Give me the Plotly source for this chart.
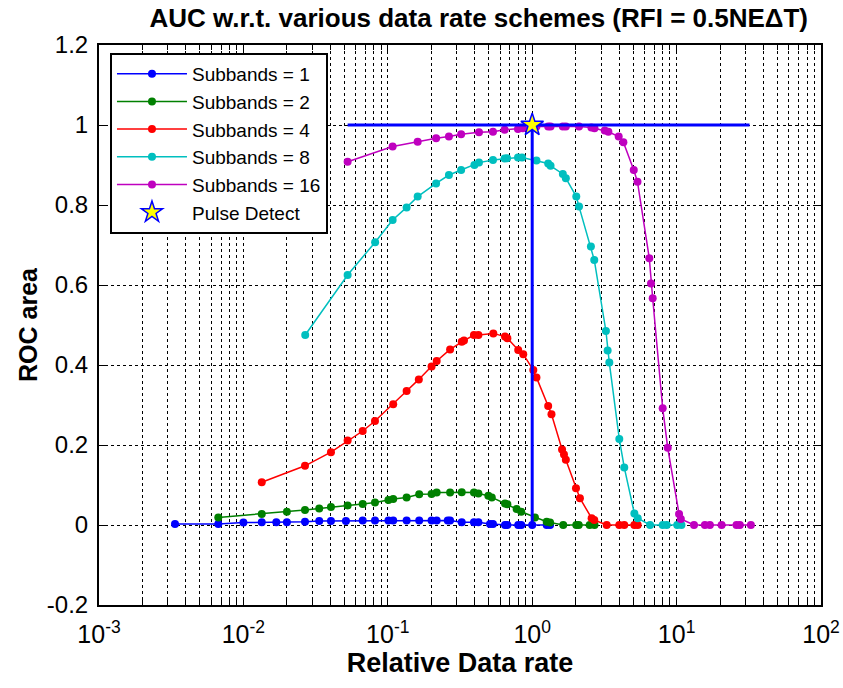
import numpy as np
import plotly.graph_objects as go

# ---- data ----
x_sb1 = [0.00336, 0.0067, 0.01, 0.0134, 0.0169, 0.02, 0.0267, 0.0335, 0.0404, 0.0513, 0.067, 0.0815,
         0.101, 0.109, 0.135, 0.165, 0.201, 0.218, 0.26, 0.27, 0.325, 0.395, 0.424, 0.51, 0.535,
         0.648, 0.673, 0.8, 0.84, 1.0, 1.26, 1.33]
y_sb1 = [0.0025, 0.0025, 0.006, 0.0067, 0.0067, 0.0067, 0.008, 0.01, 0.01, 0.01, 0.011, 0.011,
         0.011, 0.011, 0.011, 0.011, 0.011, 0.011, 0.011, 0.011, 0.007, 0.007, 0.007, 0.0025, 0.0025,
         0.0, 0.0, 0.0, 0.0, 0.0, 0.0, 0.0]

x_sb2 = [0.0067, 0.0134, 0.02, 0.0267, 0.0335, 0.0404, 0.0527, 0.067, 0.0815, 0.101, 0.109, 0.135,
         0.165, 0.201, 0.218, 0.27, 0.325, 0.395, 0.424, 0.497, 0.525, 0.648, 0.673, 0.78, 0.84,
         1.045, 1.26, 1.33, 1.64, 2.02, 2.1, 2.5, 2.7]
y_sb2 = [0.019, 0.0275, 0.033, 0.0375, 0.041, 0.045, 0.049, 0.0525, 0.056, 0.0625, 0.065, 0.069,
         0.077, 0.0775, 0.081, 0.081, 0.082, 0.081, 0.079, 0.073, 0.069, 0.054, 0.052, 0.04, 0.033,
         0.019, 0.008, 0.006, 0.0, 0.0, 0.0, 0.0, 0.0]

x_sb4 = [0.0134, 0.0267, 0.0404, 0.0527, 0.067, 0.0815, 0.109, 0.135, 0.164, 0.201, 0.218, 0.27,
         0.325, 0.337, 0.395, 0.424, 0.538, 0.648, 0.673, 0.8, 0.867, 1.018, 1.07, 1.29, 1.36,
         1.61, 1.66, 1.71, 2.01, 2.14, 2.58, 2.69, 3.28, 4.01, 4.34, 5.1, 5.38]
y_sb4 = [0.107, 0.148, 0.182, 0.211, 0.235, 0.26, 0.302, 0.335, 0.364, 0.396, 0.41, 0.439,
         0.458, 0.461, 0.475, 0.475, 0.479, 0.471, 0.467, 0.4375, 0.427, 0.3875, 0.369, 0.2975, 0.277,
         0.189, 0.176, 0.163, 0.092, 0.067, 0.017, 0.0125, 0.0, 0.0, 0.0, 0.0, 0.0]

x_sb8 = [0.0268, 0.0527, 0.0817, 0.108, 0.135, 0.161, 0.216, 0.265, 0.322, 0.398, 0.428, 0.535,
         0.644, 0.67, 0.797, 0.85, 1.07, 1.29, 1.34, 1.63, 1.71, 2.02, 2.11, 2.55, 2.69, 3.24,
         3.33, 3.42, 4.01, 4.34, 5.1, 5.38, 6.55, 8.01, 8.54, 10.1, 10.8]
y_sb8 = [0.475, 0.625, 0.707, 0.7625, 0.794, 0.821, 0.854, 0.875, 0.8875, 0.9, 0.906, 0.9125,
         0.916, 0.917, 0.919, 0.919, 0.911, 0.904, 0.898, 0.8775, 0.867, 0.821, 0.796, 0.696, 0.6625, 0.485,
         0.436, 0.406, 0.215, 0.144, 0.029, 0.017, 0.0, 0.0, 0.0, 0.0, 0.0]

x_sb16 = [0.0527, 0.108, 0.161, 0.216, 0.265, 0.322, 0.428, 0.535, 0.644, 0.797, 0.86, 1.07,
          1.29, 1.34, 1.63, 1.71, 2.11, 2.57, 2.7, 3.18, 3.37, 3.97, 4.28, 5.05, 5.36, 6.47,
          6.65, 6.83, 8.01, 8.68, 10.4, 10.7, 13.2, 15.7, 17.0, 20.5, 26.0, 27.4, 32.7]
y_sb16 = [0.908, 0.946, 0.958, 0.967, 0.971, 0.977, 0.982, 0.983, 0.988, 0.99, 0.992, 0.996,
          0.996, 0.996, 0.996, 0.996, 0.996, 0.994, 0.992, 0.986, 0.983, 0.971, 0.957, 0.8875, 0.858, 0.667,
          0.604, 0.567, 0.292, 0.193, 0.0275, 0.015, 0.0, 0.0, 0.0, 0.0, 0.0, 0.0, 0.0]

pulse_x = [1.0]
pulse_y = [1.0]
pulse_hline_x = [0.0527, 32.0]
pulse_vline_y = [0.0, 1.0]

series_names = ["Subbands = 1", "Subbands = 2", "Subbands = 4", "Subbands = 8", "Subbands = 16"]
series_x = [x_sb1, x_sb2, x_sb4, x_sb8, x_sb16]
series_y = [y_sb1, y_sb2, y_sb4, y_sb8, y_sb16]
series_colors = ["#0000FF", "#008000", "#FF0000", "#00BFBF", "#BF00BF"]

x_tick_vals = [1e-3, 1e-2, 1e-1, 1e0, 1e1, 1e2]
x_tick_text = ["10<sup>-3</sup>", "10<sup>-2</sup>", "10<sup>-1</sup>", "10<sup>0</sup>",
               "10<sup>1</sup>", "10<sup>2</sup>"]
y_tick_vals = [-0.2, 0, 0.2, 0.4, 0.6, 0.8, 1.0, 1.2]
y_tick_text = ["-0.2", "0", "0.2", "0.4", "0.6", "0.8", "1", "1.2"]

FONT = "Liberation Sans, Arial, sans-serif"

fig = go.Figure()
for name, xs, ys, col in zip(series_names, series_x, series_y, series_colors):
    fig.add_trace(go.Scatter(x=xs, y=ys, mode="lines+markers", name=name,
                             line=dict(color=col, width=1.5),
                             marker=dict(color=col, size=8, symbol="circle")))

fig.add_trace(go.Scatter(x=pulse_hline_x, y=[pulse_y[0]] * 2, mode="lines",
                         line=dict(color="#0000FF", width=3), showlegend=False, hoverinfo="skip"))
fig.add_trace(go.Scatter(x=[pulse_x[0]] * 2, y=pulse_vline_y, mode="lines",
                         line=dict(color="#0000FF", width=3), showlegend=False, hoverinfo="skip"))
fig.add_trace(go.Scatter(x=pulse_x, y=pulse_y, mode="markers", name="Pulse Detect",
                         marker=dict(symbol="star", size=17, color="yellow",
                                     line=dict(color="#0000FF", width=1.5))))

minor_vals = [m * 10.0 ** e for e in range(-3, 2) for m in range(2, 10)]

fig.update_layout(
    width=843, height=688,
    margin=dict(l=99, r=22, t=45, b=83, autoexpand=False),
    paper_bgcolor="white", plot_bgcolor="white",
    font=dict(family=FONT, color="black"),
    title=dict(text="<b>AUC w.r.t. various data rate schemes (RFI = 0.5NE\u0394T)</b>",
               x=0.526, xref="paper", xanchor="center", y=0.974, yanchor="middle",
               font=dict(size=26, family=FONT, color="black")),
    showlegend=True,
    legend=dict(x=0.0152, y=0.986, xanchor="left", yanchor="top",
                bgcolor="white", bordercolor="black", borderwidth=2,
                font=dict(size=19, family=FONT, color="black"),
                itemwidth=70,
                tracegroupgap=0),
)

fig.update_xaxes(
    type="log", range=[-3, 2], automargin=False,
    tickmode="array", tickvals=x_tick_vals, ticktext=x_tick_text,
    tickfont=dict(size=25, family=FONT, color="black"),
    ticklabelstandoff=6,
    ticks="inside", ticklen=8, tickwidth=1, tickcolor="black",
    showline=True, linecolor="black", linewidth=2, mirror="ticks",
    showgrid=True, gridcolor="black", griddash="dot", gridwidth=1,
    minor=dict(tickmode="array", tickvals=minor_vals, ticks="inside", ticklen=5,
               tickcolor="black", showgrid=True, gridcolor="black", griddash="dot", gridwidth=1),
    zeroline=False,
    title=dict(text="<b>Relative Data rate</b>", font=dict(size=27, family=FONT, color="black"),
               standoff=6),
)
fig.update_yaxes(
    range=[-0.2, 1.2], automargin=False,
    tickmode="array", tickvals=y_tick_vals, ticktext=y_tick_text,
    tickfont=dict(size=24, family=FONT, color="black"),
    ticklabelstandoff=4,
    ticks="inside", ticklen=8, tickwidth=1, tickcolor="black",
    showline=True, linecolor="black", linewidth=2, mirror="ticks",
    showgrid=True, gridcolor="black", griddash="dot", gridwidth=1,
    zeroline=False,
    title=dict(text="<b>ROC area</b>", font=dict(size=25, family=FONT, color="black"),
               standoff=2),
)

fig.write_html("out.html")
